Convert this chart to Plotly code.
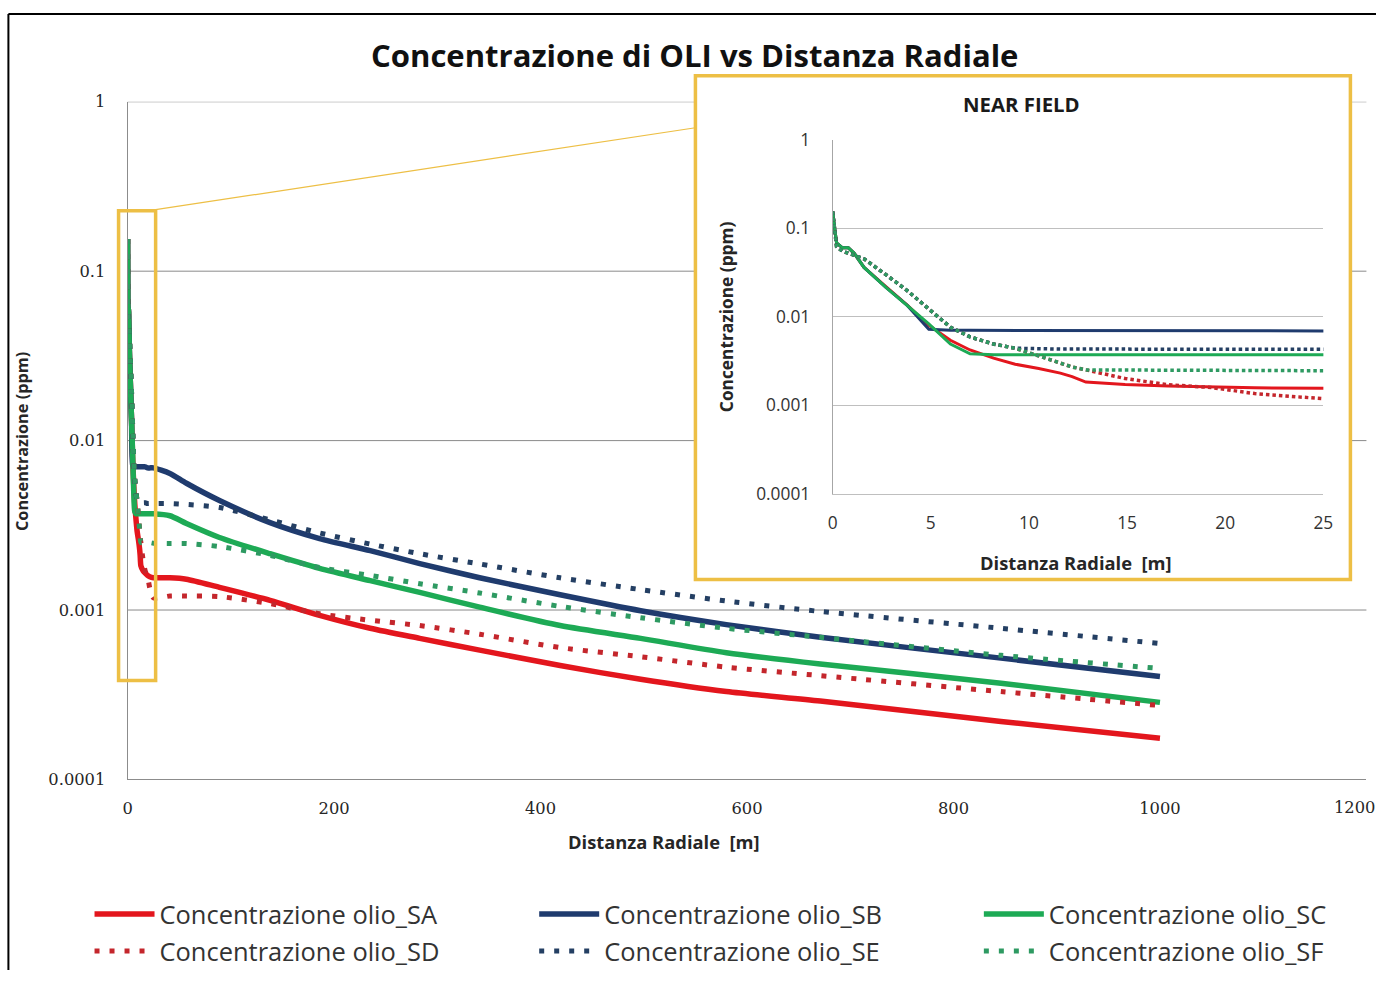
import plotly.graph_objects as go

# ---------------- data ----------------
X_NEAR = [0, 0.2, 0.5, 0.8, 1.1, 1.6, 2.7, 3.8, 4.9, 6.0, 7.0, 8.2, 9.3, 10.5,
          11.6, 12.2, 12.9, 14.9, 17.1, 19.3, 21.5, 25]
X_FAR = [41, 57, 89, 138, 186, 235, 283, 341, 419, 497, 580, 671, 846, 1000]

SA_NEAR = [0.155, 0.068, 0.060, 0.060, 0.052, 0.036, 0.022, 0.0135, 0.0080, 0.0054, 0.0042,
           0.0034, 0.0029, 0.0026, 0.0023, 0.0021, 0.00182, 0.00171, 0.00165, 0.0016, 0.00157, 0.00155]
SB_NEAR = [0.155, 0.068, 0.060, 0.060, 0.052, 0.036, 0.0216, 0.0134, 0.0072, 0.0070, 0.0070,
           0.0070, 0.0070, 0.0070, 0.0070, 0.0070, 0.0070, 0.0070, 0.0070, 0.0069, 0.0069, 0.0069]
SC_NEAR = [0.155, 0.068, 0.060, 0.060, 0.052, 0.036, 0.0216, 0.0134, 0.0083, 0.0049, 0.0038,
           0.0037, 0.0037, 0.0037, 0.0037, 0.0037, 0.0037, 0.0037, 0.0037, 0.0037, 0.0037, 0.0037]
SD_NEAR = [0.155, 0.062, 0.055, 0.052, 0.050, 0.045, 0.030, 0.0197, 0.0122, 0.0076, 0.0059,
           0.0049, 0.0044, 0.0036, 0.0030, 0.0027, 0.0025, 0.0020, 0.0017, 0.00158, 0.00135, 0.00118]
SE_NEAR = [0.155, 0.062, 0.055, 0.052, 0.050, 0.045, 0.030, 0.0197, 0.0122, 0.0076, 0.0059,
           0.0049, 0.0044, 0.0043, 0.0043, 0.0043, 0.0043, 0.0043, 0.0043, 0.00425, 0.00425, 0.00425]
SF_NEAR = [0.155, 0.062, 0.055, 0.052, 0.050, 0.045, 0.030, 0.0197, 0.0122, 0.0076, 0.0059,
           0.0049, 0.0044, 0.0036, 0.0030, 0.0027, 0.0025, 0.0025, 0.0025, 0.0025, 0.0025, 0.00248]

SA_FAR = [0.00155, 0.00152, 0.00136, 0.00114, 0.00093, 0.00078, 0.00068, 0.00058, 0.00047,
          0.00039, 0.00033, 0.00029, 0.00022, 0.000175]
SB_FAR = [0.0064, 0.0056, 0.00443, 0.00328, 0.00264, 0.00224, 0.00188, 0.00155, 0.00123,
          0.00099, 0.00082, 0.00069, 0.00052, 0.000405]
SC_FAR = [0.0036, 0.00324, 0.00268, 0.00215, 0.00176, 0.00149, 0.00127, 0.00104, 0.00081,
          0.00068, 0.00056, 0.00048, 0.00037, 0.000285]
SD_FAR = [0.00121, 0.00121, 0.00120, 0.00109, 0.00095, 0.00087, 0.00081, 0.00072, 0.00060,
          0.00053, 0.00046, 0.00041, 0.00033, 0.000273]
SE_FAR = [0.00425, 0.00420, 0.00403, 0.00340, 0.00285, 0.00245, 0.00215, 0.00187, 0.00155,
          0.00132, 0.00113, 0.00098, 0.00078, 0.000634]
SF_FAR = [0.00247, 0.00247, 0.00237, 0.00210, 0.00178, 0.00160, 0.00143, 0.00126, 0.00105,
          0.00090, 0.00078, 0.00069, 0.00054, 0.000452]

SERIES_NAMES = ["Concentrazione olio_SA", "Concentrazione olio_SB", "Concentrazione olio_SC",
                "Concentrazione olio_SD", "Concentrazione olio_SE", "Concentrazione olio_SF"]
MAIN_XTICKS = [0, 200, 400, 600, 800, 1000, 1200]
INSET_XTICKS = [0, 5, 10, 15, 20, 25]
Y_TICKS = [0.0001, 0.001, 0.01, 0.1, 1]
Y_TICKTEXT = ["0.0001", "0.001", "0.01", "0.1", "1"]

TITLE = "Concentrazione di OLI vs Distanza Radiale"
XTITLE = "Distanza Radiale\u00a0 [m]"
YTITLE = "Concentrazione (ppm)"
INSET_TITLE = "NEAR FIELD"

# ---------------- styling / placement ----------------
W, H = 1386, 981
# the photographed page maps onto the picture with a slight scale and offset;
# positions below are given in picture pixels and converted back here
SX, OX = 0.9877, 5.6
SY, OY = 0.976, 12.2
def px(X): return ((X - OX) / SX) / W
def py(Y): return 1 - ((Y - OY) / SY) / H
def fs(s): return s / ((SX + SY) / 2)

COLORS = ["#E3161D", "#1F3B6E", "#1DAA55", "#C4262C", "#243F63", "#2E9A62"]
SOLID = [True, True, True, False, False, False]
YELLOW = "#EDBF45"
SERIF = "DejaVu Serif"
SANS = "Open Sans"

series = [(SA_NEAR, SA_FAR), (SB_NEAR, SB_FAR), (SC_NEAR, SC_FAR),
          (SD_NEAR, SD_FAR), (SE_NEAR, SE_FAR), (SF_NEAR, SF_FAR)]
LEGEND_IDS = ["legend", "legend2", "legend3", "legend4", "legend5", "legend6"]

fig = go.Figure()
for i, (near, far) in enumerate(series):
    xs = X_NEAR + X_FAR
    ys = near + far
    if SOLID[i]:
        line = dict(color=COLORS[i], width=5.5, shape="spline", smoothing=0.7)
    else:
        line = dict(color=COLORS[i], width=5, dash="5px,10px", shape="spline", smoothing=0.7)
    fig.add_trace(go.Scatter(x=xs, y=ys, mode="lines", name=SERIES_NAMES[i], line=line,
                             legend=LEGEND_IDS[i], xaxis="x", yaxis="y", hoverinfo="skip"))
for i, (near, far) in enumerate(series):
    xs = X_NEAR + X_FAR
    ys = near + far
    if SOLID[i]:
        line = dict(color=COLORS[i], width=3)
    else:
        line = dict(color=COLORS[i], width=3.5, dash="3.5px,3px")
    fig.add_trace(go.Scatter(x=xs, y=ys, mode="lines", name=SERIES_NAMES[i], line=line,
                             showlegend=False, xaxis="x2", yaxis="y2", hoverinfo="skip"))

MAIN_X = [px(128), px(1365)]
MAIN_Y = [py(779), py(101)]
INS_X = [px(832), px(1322)]
INS_Y = [py(493), py(139)]

shapes = []
# main horizontal grid lines (low-layer shapes so the inset panel can hide them)
for v in Y_TICKS[1:]:
    shapes.append(dict(type="line", xref="paper", yref="y", x0=MAIN_X[0], x1=MAIN_X[1],
                       y0=v, y1=v, line=dict(color="#8A8A8A", width=1), layer="below"))
# inset white panel
shapes.append(dict(type="rect", xref="paper", yref="paper", x0=px(695), x1=px(1349),
                   y0=py(579), y1=py(75), fillcolor="white", line=dict(width=0), layer="below"))
# inset frame
shapes.append(dict(type="rect", xref="paper", yref="paper", x0=px(695), x1=px(1349),
                   y0=py(579), y1=py(75), line=dict(color=YELLOW, width=3.5), layer="above"))
# zoom box on main chart
shapes.append(dict(type="rect", xref="paper", yref="paper", x0=px(119), x1=px(156),
                   y0=py(680), y1=py(210), line=dict(color=YELLOW, width=3.5), layer="above"))
# connector
shapes.append(dict(type="line", xref="paper", yref="paper", x0=px(156), y0=py(209),
                   x1=px(695), y1=py(127), line=dict(color=YELLOW, width=1.2), layer="above"))
# outer border (left & top)
top_border = min(py(10), 1 - 1.0 / H)
shapes.append(dict(type="line", xref="paper", yref="paper", x0=px(9), x1=px(9), y0=0, y1=top_border,
                   line=dict(color="black", width=2), layer="above"))
shapes.append(dict(type="line", xref="paper", yref="paper", x0=px(9), x1=1, y0=top_border, y1=top_border,
                   line=dict(color="black", width=2), layer="above"))

annotations = [
    dict(text=f"<b>{TITLE}</b>", x=px(694), y=py(54), xref="paper", yref="paper",
         showarrow=False, font=dict(family=SANS, size=fs(30.5), color="#111111"),
         xanchor="center", yanchor="middle"),
    dict(text=f"<b>{XTITLE}</b>", x=px(664), y=py(841), xref="paper", yref="paper",
         showarrow=False, font=dict(family=SANS, size=fs(18), color="#262626"),
         xanchor="center", yanchor="middle"),
    dict(text=f"<b>{YTITLE}</b>", x=px(22), y=py(441), xref="paper", yref="paper",
         showarrow=False, textangle=-90, font=dict(family=SANS, size=fs(16), color="#262626"),
         xanchor="center", yanchor="middle"),
    dict(text=f"<b>{INSET_TITLE}</b>", x=px(1021), y=py(103), xref="paper", yref="paper",
         showarrow=False, font=dict(family=SANS, size=fs(20), color="#1a1a1a"),
         xanchor="center", yanchor="middle"),
    dict(text=f"<b>{XTITLE}</b>", x=px(1075), y=py(562), xref="paper", yref="paper",
         showarrow=False, font=dict(family=SANS, size=fs(18), color="#262626"),
         xanchor="center", yanchor="middle"),
    dict(text=f"<b>{YTITLE}</b>", x=px(725), y=py(316), xref="paper", yref="paper",
         showarrow=False, textangle=-90, font=dict(family=SANS, size=fs(17), color="#262626"),
         xanchor="center", yanchor="middle"),
    # last x tick label sits at the right page edge (the default tick label would be hidden)
    dict(text=str(MAIN_XTICKS[-1]), x=1.0, y=py(807), xref="paper", yref="paper",
         showarrow=False, font=dict(family=SERIF, size=fs(16), color="#262626"),
         xanchor="right", yanchor="middle", borderpad=0),
]

legend_common = dict(orientation="v", bgcolor="rgba(0,0,0,0)",
                     font=dict(family=SANS, size=fs(25), color="#333333"),
                     xanchor="left", yanchor="middle", itemwidth=60, borderwidth=0)
LEG_COL_X = [90, 534, 978]
LEG_ROW_Y = [914, 951]
legends = {}
for i, lid in enumerate(LEGEND_IDS):
    legends[lid] = dict(x=px(LEG_COL_X[i % 3]), y=py(LEG_ROW_Y[i // 3]), **legend_common)

fig.update_layout(
    width=W, height=H, margin=dict(l=0, r=0, t=0, b=0),
    paper_bgcolor="white", plot_bgcolor="white",
    showlegend=True,
    shapes=shapes, annotations=annotations,
    xaxis=dict(domain=MAIN_X, range=[0, 1200], tickvals=MAIN_XTICKS, showgrid=False,
               zeroline=False, showline=True, linecolor="#8C8C8C", linewidth=1, ticks="",
               tickfont=dict(family=SERIF, size=fs(16), color="#262626"), ticklabelstandoff=14,
               anchor="y", fixedrange=True),
    yaxis=dict(domain=MAIN_Y, type="log", range=[-4, 0], tickvals=Y_TICKS, ticktext=Y_TICKTEXT,
               showgrid=False, zeroline=False, showline=True, linecolor="#8C8C8C", linewidth=1,
               ticks="", tickfont=dict(family=SERIF, size=fs(16), color="#262626"),
               ticklabelstandoff=18, anchor="x", fixedrange=True),
    xaxis2=dict(domain=INS_X, range=[0, 25], tickvals=INSET_XTICKS, showgrid=False,
                zeroline=False, showline=True, linecolor="#BFBFBF", linewidth=1, ticks="",
                tickfont=dict(family=SANS, size=fs(17), color="#333333"), ticklabelstandoff=14,
                anchor="y2", fixedrange=True),
    yaxis2=dict(domain=INS_Y, type="log", range=[-4, 0], tickvals=Y_TICKS, ticktext=Y_TICKTEXT,
                showgrid=True, gridcolor="#BFBFBF", gridwidth=1, zeroline=False, showline=True,
                linecolor="#A6A6A6", linewidth=1, ticks="",
                tickfont=dict(family=SANS, size=fs(17), color="#333333"), ticklabelstandoff=18,
                anchor="x2", fixedrange=True),
    **legends,
)

fig.write_html("out.html", config={"displayModeBar": False},
               post_script="document.body.style.margin='0px';document.body.style.overflow='hidden';")
